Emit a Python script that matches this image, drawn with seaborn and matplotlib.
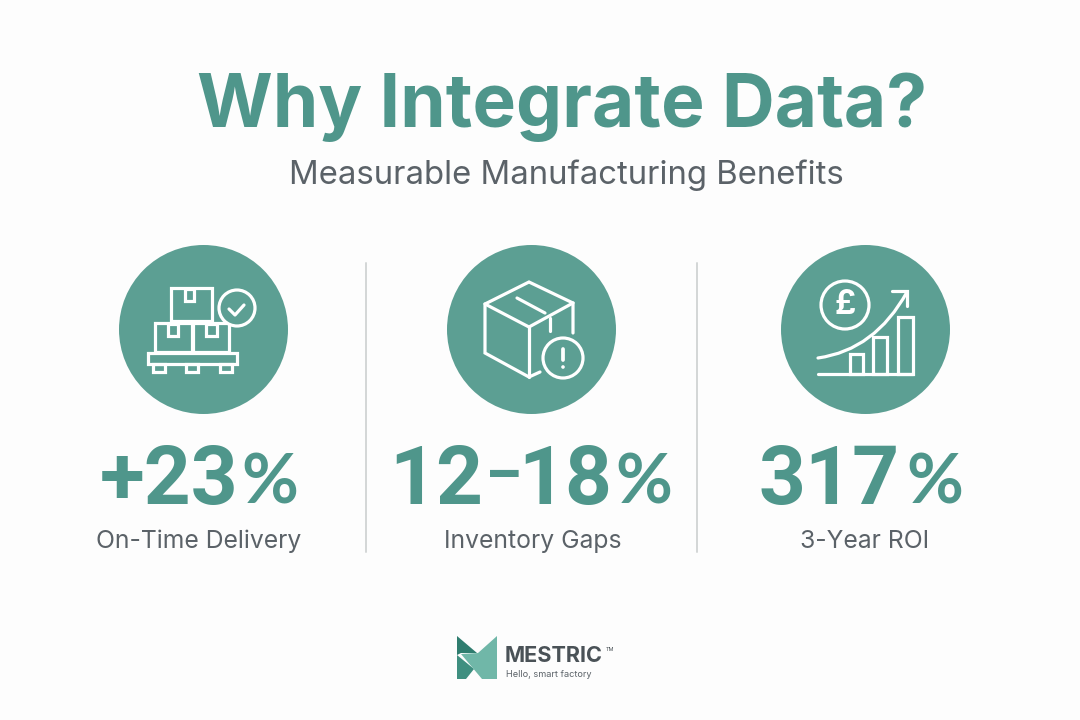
import matplotlib
matplotlib.use('Agg')
import matplotlib.pyplot as plt
from matplotlib.patches import Circle, Rectangle, Polygon, PathPatch
from matplotlib.path import Path
import pandas as pd
import seaborn as sns

# Dados do quadro
title = 'Why Integrate Data?'
subtitle = 'Measurable Manufacturing Benefits'
metrics = ['+23', '12\u201318', '317']
captions = ['On-Time Delivery', 'Inventory Gaps', '3-Year ROI']
brand = 'MESTRIC'
tagline = 'Hello, smart factory'

TEAL = '#5c9f93'
TITLE_TEAL = '#4f968b'
GREY = '#5b6268'
WHITE = '#ffffff'
LW = 2.3

sns.set_theme(style='white')
plt.rcParams['font.family'] = ['Inter', 'DejaVu Sans']

fig = plt.figure(figsize=(10.8, 7.2), dpi=100, facecolor='#fdfdfd')
ax = fig.add_axes([0, 0, 1, 1])
ax.set_xlim(0, 1080)
ax.set_ylim(720, 0)
ax.axis('off')

# Circulos dos icones
badges = pd.DataFrame({'x': [203, 531, 864.5], 'y': [329, 329, 329]})
sns.scatterplot(data=badges, x='x', y='y', s=(169 * 0.72) ** 2, color=TEAL,
                linewidth=0, ax=ax, legend=False, zorder=1)
ax.axis('off')


def box(x0, y0, x1, y1, fc='none'):
    ax.add_patch(Rectangle((x0, y0), x1 - x0, y1 - y0, fc=fc, ec=WHITE, lw=LW,
                           joinstyle='miter', zorder=3))


def line(pts, lw=LW):
    xs, ys = zip(*pts)
    ax.plot(xs, ys, color=WHITE, lw=lw, solid_capstyle='round',
            solid_joinstyle='miter', zorder=4)


def big_number(x, text, y=504, size=59, weight='bold', ha='right'):
    ax.text(x, y, text, color=TITLE_TEAL, fontsize=size, fontweight=weight,
            family=['Roboto', 'DejaVu Sans'], ha=ha, va='baseline')


# Icone 1: caixas no palete
box(171, 288, 212, 321)
box(185, 289, 194, 301)
box(155, 323, 192, 352)
box(168, 324, 178, 336)
box(193, 323, 229, 352)
box(206, 324, 217, 336)
box(148, 353, 237, 364)
for fx in [153, 186, 220]:
    box(fx, 364, fx + 12, 372)
ax.add_patch(Circle((237, 308), 18, fc=TEAL, ec=WHITE, lw=LW, zorder=5))
ax.plot([229, 235, 244], [309, 315, 305], color=WHITE, lw=LW,
        solid_capstyle='round', zorder=6)

# Icone 2: caixa com alerta
line([(540, 372), (529, 377), (485, 353), (485, 304), (529, 282), (573, 303), (573, 333)])
line([(485, 304), (529, 327), (573, 303)])
line([(529, 327), (529, 377)])
line([(517, 298), (545, 313)])
line([(550, 318), (550, 331)])
ax.add_patch(Circle((563, 358), 20, fc=TEAL, ec=WHITE, lw=LW, zorder=5))
ax.plot([563, 563], [349, 360], color=WHITE, lw=LW + 0.4, solid_capstyle='round', zorder=6)
ax.add_patch(Circle((563, 367), 1.8, fc=WHITE, ec='none', zorder=6))

# Icone 3: retorno
ax.add_patch(Circle((845, 305), 24, fc='none', ec=WHITE, lw=LW, zorder=4))
ax.text(845, 305.5, '\u00a3', color=WHITE, fontsize=24, fontweight='bold',
        ha='center', va='center', zorder=5)
ax.add_patch(PathPatch(Path([(818, 358), (875, 350), (907, 292)],
                            [Path.MOVETO, Path.CURVE3, Path.CURVE3]),
                       fc='none', ec=WHITE, lw=LW, capstyle='round', zorder=4))
line([(892, 291), (907, 291), (907, 306)])
line([(818, 374), (913, 374)])
box(850, 354, 863, 374)
box(873, 337, 887, 374)
box(898, 317, 913, 374)

# Textos
ax.text(562, 127, title, color=TITLE_TEAL, fontsize=52.6, fontweight='bold',
        ha='center', va='baseline')
ax.text(566, 184, subtitle, color=GREY, fontsize=23.7, ha='center', va='baseline')

# numeros grandes; o intervalo vai em tres partes para o traco ficar curto
big_number(239, metrics[0])
low, high = metrics[1].split('\u2013')
big_number(483, low)
big_number(503, '\u2013', y=493, size=40, weight='black', ha='center')
big_number(612, high)
big_number(900, metrics[2])
for pct_x in [241, 615, 906]:
    ax.text(pct_x, 504, '%', color=TITLE_TEAL, fontsize=50, fontweight='bold',
            family=['Lato', 'DejaVu Sans'], ha='left', va='baseline')
for cx, caption in zip([198.5, 533, 865], captions):
    ax.text(cx, 548, caption, color=GREY, fontsize=17.8, ha='center', va='baseline')

# Divisores
for dx in [366, 697]:
    ax.plot([dx, dx], [263, 552], color='#d3d6d6', lw=1.4, zorder=1)

# Logo
ax.add_patch(Polygon([(457, 636), (477, 653), (461, 653), (457, 655)], fc='#2f7d6f', ec='none'))
ax.add_patch(Polygon([(457, 655), (474, 669), (466, 679), (457, 679)], fc='#3f8f80', ec='none'))
ax.add_patch(Polygon([(497, 636), (478, 653), (461, 654), (482, 679), (497, 679)],
                     fc='#70b7a8', ec='none'))
ax.text(505, 662, brand, color='#4a5257', fontsize=15.6, fontweight='bold',
        ha='left', va='baseline')
ax.text(606, 651, 'TM', color='#4a5257', fontsize=4, ha='left', va='baseline')
ax.text(506, 677, tagline, color=GREY, fontsize=6.6, ha='left', va='baseline')

fig.savefig('out.png', dpi=100, facecolor=fig.get_facecolor())
